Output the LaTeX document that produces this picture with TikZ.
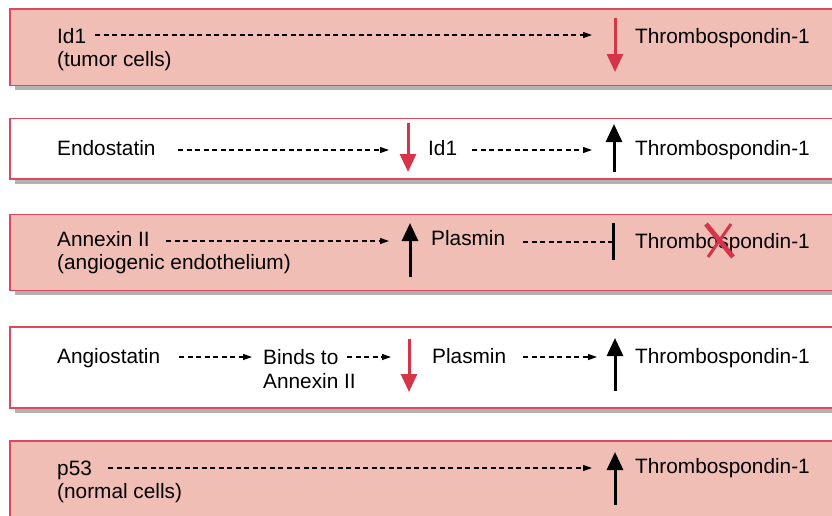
\documentclass[tikz,border=0pt]{standalone}
\usepackage{fontspec}
\setmainfont{Liberation Sans}
\usetikzlibrary{arrows.meta}
\definecolor{pinkfill}{RGB}{240,190,180}
\definecolor{boxred}{RGB}{222,72,92}
\definecolor{arrred}{RGB}{214,52,72}
\definecolor{shadowgray}{RGB}{178,178,178}
\begin{document}
\begin{tikzpicture}[x=1pt,y=-1pt,
  txt/.style={anchor=base west,inner sep=0pt,font=\fontsize{20.8}{24}\selectfont},
  pinkbox/.style={draw=boxred,line width=1.6pt,fill=pinkfill},
  whitebox/.style={draw=boxred,line width=1.6pt,fill=white},
  shade/.style={fill=shadowgray,draw=none},
  dasharr/.style={line width=1.2pt,dash pattern=on 5pt off 3.5pt,-{Triangle[width=6pt,length=9pt]}},
  dashbar/.style={line width=1.2pt,dash pattern=on 5pt off 3.5pt},
  uparr/.style={line width=3pt,-{Triangle[width=16pt,length=18pt]}},
  blackarr/.style={uparr,black},
  redarr/.style={uparr,arrred}]
\useasboundingbox (0,0) rectangle (832,515);
% boxes
\fill[shade] (15,14) rectangle (850,90);
\path[pinkbox] (10,9) rectangle (850,85.5);
\fill[shade] (15,124) rectangle (850,184);
\path[whitebox] (10,118.5) rectangle (850,179);
\fill[shade] (15,220) rectangle (850,295);
\path[pinkbox] (10,214.5) rectangle (850,290.5);
\fill[shade] (15,332) rectangle (850,413);
\path[whitebox] (10,327) rectangle (850,408);
\fill[shade] (15,446) rectangle (850,540);
\path[pinkbox] (10,441) rectangle (850,535);
% Row 1
\node[txt] (id1a) at (57,43) {Id1};
\node[txt] (tum) at (57,66) {(tumor cells)};
\node[txt] (tsp1) at (635,43) {Thrombospondin-1};
\coordinate (s1) at (95,35); \coordinate (e1) at (592,35);
\draw[dasharr] (s1) -- (e1);
\coordinate (v1a) at (615,18); \coordinate (v1b) at (615,72);
\draw[redarr] (v1a) -- (v1b);
% Row 2
\node[txt] (endo) at (57,155) {Endostatin};
\node[txt] (id1b) at (428,155) {Id1};
\node[txt] (tsp2) at (635,155) {Thrombospondin-1};
\coordinate (s2) at (178,150); \coordinate (e2) at (389,150);
\draw[dasharr] (s2) -- (e2);
\coordinate (v2a) at (408,123); \coordinate (v2b) at (408,172);
\draw[redarr] (v2a) -- (v2b);
\coordinate (s3) at (472,150); \coordinate (e3) at (592,150);
\draw[dasharr] (s3) -- (e3);
\coordinate (v3a) at (614,172); \coordinate (v3b) at (614,124);
\draw[blackarr] (v3a) -- (v3b);
% Row 3
\node[txt] (anx) at (57,246) {Annexin II};
\node[txt] (angio) at (57,269) {(angiogenic endothelium)};
\node[txt] (plas1) at (431,245) {Plasmin};
\node[txt] (tsp3) at (635,248) {Thrombospondin-1};
\coordinate (s4) at (166,241); \coordinate (e4) at (389,241);
\draw[dasharr] (s4) -- (e4);
\coordinate (v4a) at (410,277); \coordinate (v4b) at (410,223);
\draw[blackarr] (v4a) -- (v4b);
\coordinate (s5) at (523,242); \coordinate (e5) at (613,242);
\draw[dashbar] (s5) -- (e5);
\coordinate (b5a) at (613,223); \coordinate (b5b) at (613,260);
\draw[line width=3pt] (b5a) -- (b5b);
\coordinate (xa) at (706,224); \coordinate (xb) at (733,257);
\coordinate (xc) at (708,257); \coordinate (xd) at (731,224);
\draw[arrred,line width=4.8pt] (xa) -- (xb);
\draw[arrred,line width=3pt] (xd) -- (xc);
% Row 4
\node[txt] (angst) at (57,363) {Angiostatin};
\node[txt] (binds) at (263,364) {Binds to};
\node[txt] (anx2) at (263,388) {Annexin II};
\node[txt] (plas2) at (432,363) {Plasmin};
\node[txt] (tsp4) at (635,363) {Thrombospondin-1};
\coordinate (s6) at (179,357); \coordinate (e6) at (252,357);
\draw[dasharr] (s6) -- (e6);
\coordinate (s7) at (347,357); \coordinate (e7) at (391,357);
\draw[dasharr] (s7) -- (e7);
\coordinate (v7a) at (409,339); \coordinate (v7b) at (409,392);
\draw[redarr] (v7a) -- (v7b);
\coordinate (s8) at (523,357); \coordinate (e8) at (597,357);
\draw[dasharr] (s8) -- (e8);
\coordinate (v8a) at (615,391); \coordinate (v8b) at (615,338);
\draw[blackarr] (v8a) -- (v8b);
% Row 5
\node[txt] (p53) at (57,475) {p53};
\node[txt] (norm) at (57,498) {(normal cells)};
\node[txt] (tsp5) at (635,473) {Thrombospondin-1};
\coordinate (s9) at (108,468); \coordinate (e9) at (592,468);
\draw[dasharr] (s9) -- (e9);
\coordinate (v9a) at (615,505); \coordinate (v9b) at (615,452);
\draw[blackarr] (v9a) -- (v9b);
\end{tikzpicture}
\end{document}
